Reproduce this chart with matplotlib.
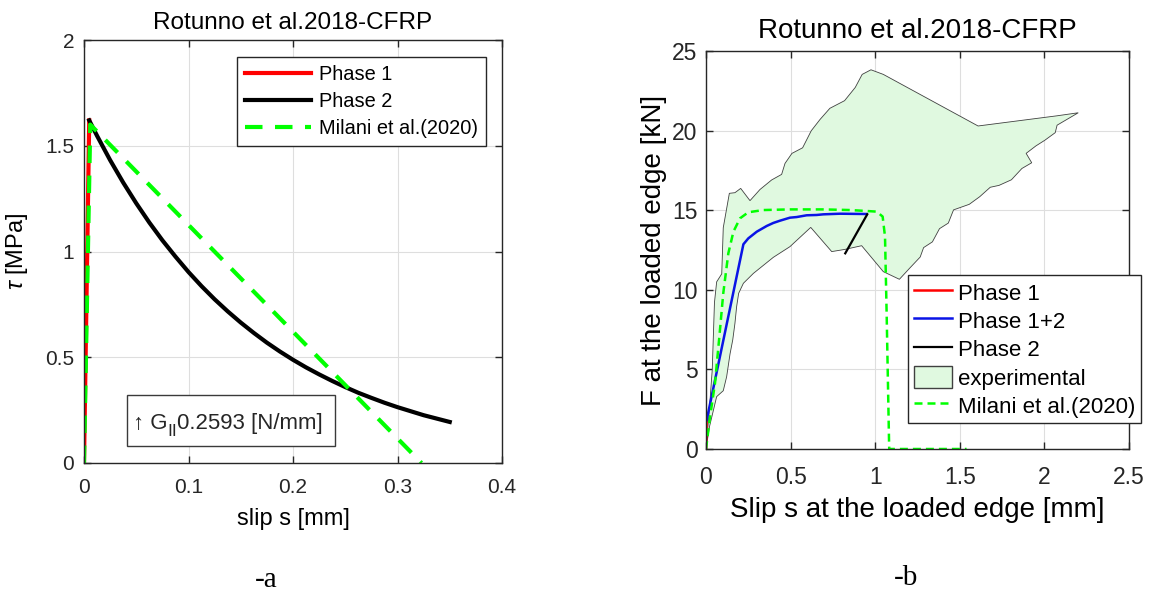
import matplotlib
matplotlib.use('Agg')
import matplotlib.pyplot as plt
from matplotlib.patches import Patch, Rectangle

plt.rcParams['font.family'] = ['Liberation Sans', 'DejaVu Sans']
plt.rcParams['mathtext.fontset'] = 'custom'
plt.rcParams['mathtext.rm'] = 'Liberation Sans'
plt.rcParams['mathtext.it'] = 'Liberation Sans:italic'

# ---- panel a: bond-slip law ----
phase1_s = [0.0, 0.005]
phase1_tau = [0.0, 1.62]

phase2_s = [0.005, 0.0125, 0.025, 0.0375, 0.05, 0.0625, 0.075, 0.0875, 0.1,
            0.1125, 0.125, 0.1375, 0.15, 0.1625, 0.175, 0.1875, 0.2, 0.2125,
            0.225, 0.2375, 0.25, 0.2625, 0.275, 0.2875, 0.3, 0.3125, 0.325,
            0.3375, 0.35]
phase2_tau = [1.620, 1.547, 1.432, 1.326, 1.228, 1.137, 1.053, 0.976, 0.903,
              0.836, 0.774, 0.717, 0.664, 0.615, 0.569, 0.527, 0.488, 0.452,
              0.419, 0.388, 0.359, 0.332, 0.308, 0.285, 0.264, 0.245, 0.226,
              0.210, 0.194]

milani_a_s = [0.0, 0.006, 0.323]
milani_a_tau = [0.0, 1.60, 0.0]

# ---- panel b: force-slip curves ----
p1_s = [0.0, 0.004]
p1_F = [0.0, 1.82]

p12_s = [0.004, 0.221, 0.25, 0.30, 0.359, 0.398, 0.437, 0.496, 0.536,
         0.595, 0.654, 0.693, 0.792, 0.95]
p12_F = [1.82, 12.86, 13.23, 13.65, 14.01, 14.20, 14.34, 14.53, 14.57,
         14.68, 14.70, 14.74, 14.78, 14.76]

p2_s = [0.953, 0.823]
p2_F = [14.74, 12.29]

milani_b_s = [0.0, 0.024, 0.053, 0.079, 0.102, 0.132, 0.162, 0.201, 0.25,
              0.339, 0.496, 0.693, 0.851, 0.95, 1.009, 1.044, 1.058, 1.068,
              1.082, 1.083, 1.54]
milani_b_F = [0.0, 2.03, 4.12, 7.06, 9.78, 12.29, 13.65, 14.49, 14.87,
              15.01, 15.05, 15.05, 15.01, 14.95, 14.91, 14.6, 13.34, 8.31,
              0.36, 0.0, 0.0]

# experimental envelope: upper-left edge then back along the lower-right edge
exp_upper_s = [0.0, 0.02, 0.037, 0.05, 0.063, 0.093, 0.102, 0.138, 0.171,
               0.205, 0.26, 0.319, 0.388, 0.447, 0.467, 0.508, 0.571, 0.622,
               0.674, 0.732, 0.819, 0.882, 0.923, 0.975, 1.048, 1.608, 2.075, 2.2]
exp_upper_F = [0.0, 2.5, 5.0, 9.2, 10.5, 11.0, 13.9, 16.06, 16.1, 16.37,
               15.6, 16.3, 16.9, 17.25, 17.94, 18.57, 18.92, 19.99, 20.7,
               21.4, 21.88, 22.71, 23.53, 23.82, 23.53, 20.29, 20.93, 21.12]
exp_lower_s = [2.075, 2.064, 2.002, 1.95, 1.892, 1.925, 1.867, 1.805, 1.732,
               1.68, 1.618, 1.556, 1.463, 1.432, 1.38, 1.338, 1.286, 1.266,
               1.203, 1.143, 1.048, 0.920, 0.822, 0.743, 0.619, 0.496, 0.398,
               0.280, 0.221, 0.193, 0.181, 0.171, 0.158, 0.142, 0.122, 0.102,
               0.063, 0.021]
exp_lower_F = [20.34, 19.87, 19.39, 19.04, 18.57, 17.98, 17.62, 16.91, 16.56,
               16.44, 15.85, 15.37, 15.02, 14.19, 13.84, 13.01, 12.65, 12.06,
               11.35, 10.66, 11.14, 12.77, 12.54, 12.40, 13.92, 12.71, 12.04,
               11.03, 10.41, 9.78, 8.94, 7.89, 6.85, 5.97, 4.54, 3.66, 3.29, 1.42]

AX_COL = '#262626'
GRID_COL = '#dedede'
FILL_COL = '#e0f9e0'


def style_axes(ax, tick_size, xpad, ypad):
    ax.grid(True, color=GRID_COL, linewidth=0.8)
    ax.set_axisbelow(True)
    for sp in ax.spines.values():
        sp.set_color(AX_COL)
        sp.set_linewidth(1.0)
    ax.tick_params(direction='in', top=True, right=True, length=5, width=1,
                   colors=AX_COL, labelsize=tick_size)
    ax.tick_params(axis='x', pad=xpad)
    ax.tick_params(axis='y', pad=ypad)


fig = plt.figure(figsize=(11.52, 5.92), dpi=100)

# ---------------- panel a ----------------
ax1 = fig.add_axes([84 / 1152, 1 - 463 / 592, 418 / 1152, 423 / 592])
ax1.plot(phase1_s, phase1_tau, color='red', linewidth=3, label='Phase 1')
ax1.plot(phase2_s, phase2_tau, color='black', linewidth=3, label='Phase 2')
ax1.plot(milani_a_s, milani_a_tau, color='#00ff00', linewidth=3,
         dashes=(4.2, 3.0), label='Milani et al.(2020)')
ax1.set_xlim(0, 0.4)
ax1.set_ylim(0, 2)
ax1.set_xticks([0, 0.1, 0.2, 0.3, 0.4])
ax1.set_xticklabels(['0', '0.1', '0.2', '0.3', '0.4'])
ax1.set_yticks([0, 0.5, 1, 1.5, 2])
ax1.set_yticklabels(['0', '0.5', '1', '1.5', '2'])
style_axes(ax1, 15, 11, 7)
ax1.set_xlabel('slip s [mm]', fontsize=17, labelpad=8)
ax1.set_ylabel(r'$\tau$ [MPa]', fontsize=17, labelpad=11)
ax1.set_title('Rotunno et al.2018-CFRP', fontsize=17.5, pad=8)

leg1 = ax1.legend(loc='upper right', bbox_to_anchor=(0.962, 0.96),
                  fontsize=14.4, handlelength=3.3, borderaxespad=0,
                  fancybox=False, framealpha=1, edgecolor=AX_COL,
                  labelspacing=0.4, handletextpad=0.4, borderpad=0.4)
leg1.get_frame().set_linewidth(1.0)

# fracture energy annotation box (G with a near full-size "II" subscript)
ax1.add_patch(Rectangle((0.103, 0.04), 0.497, 0.12, transform=ax1.transAxes,
                        facecolor='white', edgecolor='#3a3a3a',
                        linewidth=1.0, zorder=5))
t_a = ax1.text(0.117, 0.094, '\u2191 G', transform=ax1.transAxes,
               fontsize=16, va='center', ha='left', color=AX_COL, zorder=6)
t_b = ax1.annotate('II', xy=(1, 0), xycoords=t_a, xytext=(0, -4),
                   textcoords='offset points', fontsize=12.5, va='bottom',
                   ha='left', color=AX_COL, zorder=6)
ax1.annotate('0.2593 [N/mm]', xy=(1, 0), xycoords=t_b, xytext=(0, 4),
             textcoords='offset points', fontsize=16, va='bottom', ha='left',
             color=AX_COL, zorder=6)

# ---------------- panel b ----------------
ax2 = fig.add_axes([706 / 1152, 1 - 449 / 592, 423 / 1152, 398 / 592])
exp_s = exp_upper_s + exp_lower_s
exp_F = exp_upper_F + exp_lower_F
ax2.fill(exp_s, exp_F, facecolor=FILL_COL, edgecolor='#404040',
         linewidth=0.6, label='experimental')
l_p1, = ax2.plot(p1_s, p1_F, color='red', linewidth=1.8, label='Phase 1')
l_p12, = ax2.plot(p12_s, p12_F, color='#0a14e6', linewidth=1.8,
                  label='Phase 1+2')
l_p2, = ax2.plot(p2_s, p2_F, color='black', linewidth=1.6, label='Phase 2')
l_mil, = ax2.plot(milani_b_s, milani_b_F, color='#00ff00', linewidth=1.8,
                  dashes=(3.2, 2.0), label='Milani et al.(2020)')
ax2.set_xlim(0, 2.5)
ax2.set_ylim(0, 25)
ax2.set_xticks([0, 0.5, 1, 1.5, 2, 2.5])
ax2.set_xticklabels(['0', '0.5', '1', '1.5', '2', '2.5'])
ax2.set_yticks([0, 5, 10, 15, 20, 25])
style_axes(ax2, 16.5, 12, 6)
ax2.set_xlabel('Slip s at the loaded edge [mm]', fontsize=20, labelpad=6)
ax2.set_ylabel('F at the loaded edge [kN]', fontsize=20, labelpad=4)
ax2.set_title('Rotunno et al.2018-CFRP', fontsize=20, pad=9)

exp_patch = Patch(facecolor=FILL_COL, edgecolor='#404040', linewidth=1.0)
leg2 = ax2.legend([l_p1, l_p12, l_p2, exp_patch, l_mil],
                  ['Phase 1', 'Phase 1+2', 'Phase 2', 'experimental',
                   'Milani et al.(2020)'],
                  loc='upper left', bbox_to_anchor=(0.478, 0.437),
                  fontsize=16, handlelength=1.7, handleheight=1.2,
                  borderaxespad=0, fancybox=False, framealpha=1,
                  edgecolor=AX_COL, labelspacing=0.2, handletextpad=0.3,
                  borderpad=0.25)
leg2.get_frame().set_linewidth(1.0)

# sub-figure captions
fig.text(266 / 1152, 1 - 580 / 592, '-a', fontsize=21, family='Liberation Serif',
         ha='center', va='center')
fig.text(906 / 1152, 1 - 578 / 592, '-b', fontsize=21, family='Liberation Serif',
         ha='center', va='center')

fig.savefig('out.png', dpi=100)
